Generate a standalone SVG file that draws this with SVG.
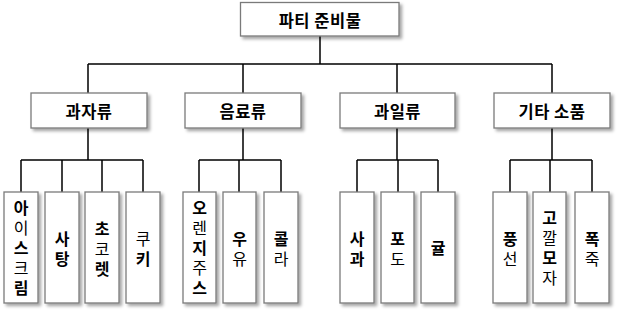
<svg xmlns="http://www.w3.org/2000/svg" width="618" height="312" viewBox="0 0 618 312">
<defs>
<filter id="sh" x="-20%" y="-20%" width="150%" height="150%">
<feDropShadow dx="2.5" dy="2.5" stdDeviation="1.5" flood-color="#000" flood-opacity="0.35"/>
</filter>
<style>
.box{fill:#fff;stroke:#7a7a7a;stroke-width:1.3;filter:url(#sh)}
.ln{stroke:#000;stroke-width:1.5;fill:none}
.t{font-family:"Noto Sans CJK KR","Noto Sans",sans-serif;font-size:16.5px;letter-spacing:0.5px;text-anchor:middle;dominant-baseline:central;fill:#000;font-weight:bold}
.v{font-family:"Noto Sans CJK KR","Noto Sans",sans-serif;font-size:16px;text-anchor:middle;writing-mode:vertical-rl;text-orientation:upright;letter-spacing:4px;fill:#000}
.b{font-weight:bold}
.n{font-weight:normal}
</style>
</defs>
<rect width="618" height="312" fill="#fff"/>
<g id="connectors">
<path class="ln" d="M320 36V64M88 64H552M88 64V93M243 64V93M397 64V93M552 64V93"/>
<path class="ln" d="M88 128V160M243 128V160M397 128V160M552 128V160"/>
<path class="ln" d="M21 160H143M21 160V192M62 160V192M102 160V192M143 160V192"/>
<path class="ln" d="M199 160H281M199 160V192M239 160V192M281 160V192"/>
<path class="ln" d="M357 160H438M357 160V192M398 160V192M438 160V192"/>
<path class="ln" d="M510 160H592M510 160V192M550 160V192M592 160V192"/>
</g>
<g id="root"><rect class="box" x="240.5" y="2.5" width="158.5" height="33.5"/><text class="t" x="320" y="19.5">파티 준비물</text></g>
<g id="snacks"><rect class="box" x="31" y="93" width="116" height="35"/><text class="t" x="89" y="110.5">과자류</text></g>
<g id="drinks"><rect class="box" x="185" y="93" width="116" height="35"/><text class="t" x="243" y="110.5">음료류</text></g>
<g id="fruits"><rect class="box" x="340" y="93" width="115" height="35"/><text class="t" x="397.5" y="110.5">과일류</text></g>
<g id="etc"><rect class="box" x="494" y="93" width="116" height="35"/><text class="t" x="552" y="110.5">기타 소품</text></g>

<g id="icecream"><rect class="box" x="4" y="192" width="34" height="111"/>
<text class="v" x="21" y="250"><tspan class="b">아</tspan><tspan class="n">이</tspan><tspan class="b">스</tspan><tspan class="n">크</tspan><tspan class="b">림</tspan></text></g>
<g id="candy"><rect class="box" x="45" y="192" width="34" height="111"/>
<text class="v" x="62" y="250.5"><tspan class="b">사탕</tspan></text></g>
<g id="chocolate"><rect class="box" x="85" y="192" width="34" height="111"/>
<text class="v" x="102" y="251"><tspan class="b">초</tspan><tspan class="n">코</tspan><tspan class="b">렛</tspan></text></g>
<g id="cookie"><rect class="box" x="126" y="192" width="34" height="111"/>
<text class="v" x="143" y="250.5"><tspan class="n">쿠</tspan><tspan class="b">키</tspan></text></g>

<g id="oj"><rect class="box" x="183" y="192" width="33" height="111"/>
<text class="v" x="199.5" y="250"><tspan class="b">오</tspan><tspan class="n">렌</tspan><tspan class="b">지</tspan><tspan class="n">주</tspan><tspan class="b">스</tspan></text></g>
<g id="milk"><rect class="box" x="223" y="192" width="33" height="111"/>
<text class="v" x="239.5" y="250.5"><tspan class="b">우</tspan><tspan class="n">유</tspan></text></g>
<g id="cola"><rect class="box" x="264" y="192" width="34" height="111"/>
<text class="v" x="281" y="250.5"><tspan class="b">콜</tspan><tspan class="n">라</tspan></text></g>

<g id="apple"><rect class="box" x="340" y="192" width="34" height="111"/>
<text class="v" x="357" y="250.5"><tspan class="b">사과</tspan></text></g>
<g id="grape"><rect class="box" x="381" y="192" width="33" height="111"/>
<text class="v" x="397.5" y="250.5"><tspan class="b">포</tspan><tspan class="n">도</tspan></text></g>
<g id="tangerine"><rect class="box" x="421" y="192" width="34" height="111"/>
<text class="v" x="438" y="250"><tspan class="b">귤</tspan></text></g>

<g id="balloon"><rect class="box" x="493" y="192" width="34" height="111"/>
<text class="v" x="510" y="250.5"><tspan class="b">풍</tspan><tspan class="n">선</tspan></text></g>
<g id="hat"><rect class="box" x="533" y="192" width="33" height="111"/>
<text class="v" x="549.5" y="250"><tspan class="b">고</tspan><tspan class="n">깔</tspan><tspan class="b">모</tspan><tspan class="n">자</tspan></text></g>
<g id="firecracker"><rect class="box" x="575" y="192" width="34" height="111"/>
<text class="v" x="592" y="250.5"><tspan class="b">폭</tspan><tspan class="n">죽</tspan></text></g>
</svg>
